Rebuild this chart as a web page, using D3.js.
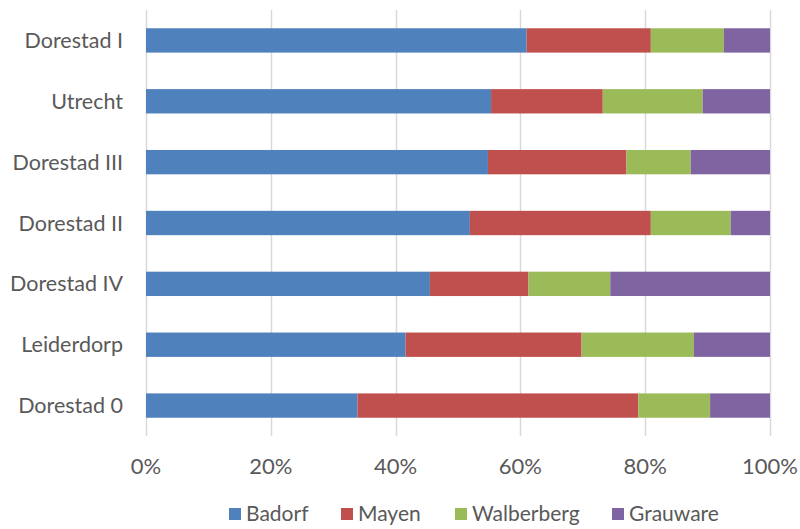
<!DOCTYPE html>
<html>
<head>
<meta charset="utf-8">
<script src="https://cdn.jsdelivr.net/npm/d3@7"></script>
<style>
  body { margin: 0; background: #fff; }
  svg text { font-family: Lato, "Open Sans", sans-serif; fill: #595959; }
</style>
</head>
<body>
<svg id="chart" width="800" height="529"></svg>
<script>
var sites = ['Dorestad I', 'Utrecht', 'Dorestad III', 'Dorestad II', 'Dorestad IV', 'Leiderdorp', 'Dorestad 0'];
var wares = ['Badorf', 'Mayen', 'Walberberg', 'Grauware'];
var badorf     = [61.0, 55.3, 54.8, 51.9, 45.5, 41.6, 33.9];
var mayen      = [19.9, 17.9, 22.2, 29.0, 15.8, 28.2, 45.0];
var walberberg = [11.7, 16.0, 10.3, 12.8, 13.1, 18.0, 11.5];
var grauware   = [ 7.4, 10.8, 12.7,  6.3, 25.6, 12.2,  9.6];
var ticks = [0, 0.2, 0.4, 0.6, 0.8, 1];
var colors = ['#4f81bd', '#c0504d', '#9bbb59', '#8064a2'];

var rows = sites.map(function(s, i) {
  return {site: s, Badorf: badorf[i], Mayen: mayen[i], Walberberg: walberberg[i], Grauware: grauware[i]};
});
// normalise to 100%
rows.forEach(function(r) {
  var t = wares.reduce(function(a, w) { return a + r[w]; }, 0);
  wares.forEach(function(w) { r[w] = r[w] / t; });
});

var svg = d3.select('#chart');
var margin = {top: 10, left: 146, right: 30};
var plotBottom = 436;

var x = d3.scaleLinear().domain([0, 1]).range([margin.left, 770]);
var y = d3.scaleBand().domain(sites).range([margin.top, plotBottom]).paddingInner(0.6).paddingOuter(0.3);
var color = d3.scaleOrdinal().domain(wares).range(colors);

// gridlines
svg.append('g').selectAll('line')
    .data(ticks)
    .enter().append('line')
    .attr('x1', function(d) { return Math.round(x(d)) + 0.5; })
    .attr('x2', function(d) { return Math.round(x(d)) + 0.5; })
    .attr('y1', margin.top)
    .attr('y2', plotBottom)
    .attr('stroke', '#d9d9d9')
    .attr('stroke-width', 1.5);

var series = d3.stack().keys(wares)(rows);

svg.append('g').selectAll('g')
    .data(series)
    .enter().append('g')
    .attr('fill', function(d) { return color(d.key); })
    .selectAll('rect')
    .data(function(d) { return d; })
    .enter().append('rect')
    .attr('x', function(d) { return x(d[0]); })
    .attr('width', function(d) { return x(d[1]) - x(d[0]); })
    .attr('y', function(d) { return y(d.data.site); })
    .attr('height', y.bandwidth());

// category labels
svg.append('g').selectAll('text')
    .data(sites)
    .enter().append('text')
    .attr('x', 123)
    .attr('y', function(d) { return y(d) + y.bandwidth() / 2; })
    .attr('dy', '0.35em')
    .attr('text-anchor', 'end')
    .style('font-size', '21.5px')
    .text(function(d) { return d; });

// x tick labels
svg.append('g').selectAll('text')
    .data(ticks)
    .enter().append('text')
    .attr('x', function(d) { return x(d); })
    .attr('y', 466)
    .attr('dy', '0.35em')
    .attr('text-anchor', 'middle')
    .style('font-size', '22px')
    .text(d3.format('.0%'));

// legend
var legendX = [229, 341, 455, 612];
var legend = svg.append('g').selectAll('g')
    .data(wares)
    .enter().append('g')
    .attr('transform', function(d, i) { return 'translate(' + legendX[i] + ',508)'; });

legend.append('rect')
    .attr('width', 12)
    .attr('height', 12)
    .attr('fill', function(d) { return color(d); });

legend.append('text')
    .attr('x', 17)
    .attr('y', 6)
    .attr('dy', '0.35em')
    .style('font-size', '21px')
    .text(function(d) { return d; });
</script>
</body>
</html>
